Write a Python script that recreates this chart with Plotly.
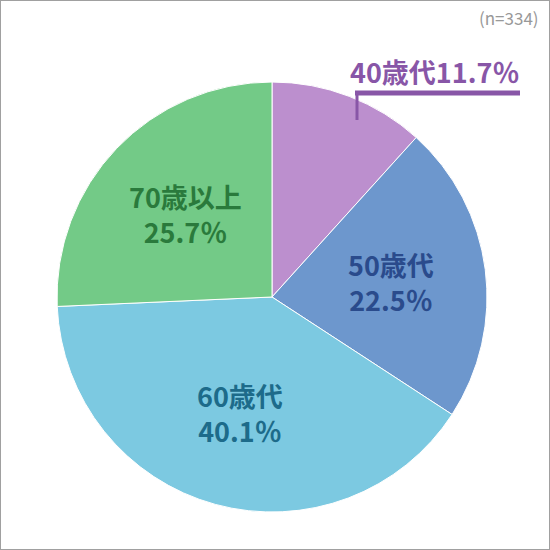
import math
import plotly.graph_objects as go

labels = ["40歳代", "50歳代", "60歳代", "70歳以上"]
values = [11.7, 22.5, 40.1, 25.7]
slice_colors = ["#BC8FCE", "#6D97CD", "#7CC9E1", "#73CA87"]
text_colors = ["#8856A7", "#2A4B8C", "#1D6B8A", "#2A7A3C"]
note = "(n=334)"

W = H = 550
cx, cy, R = 272, 297, 215  # pixel centre / radius of the pie

fig = go.Figure(go.Pie(
    labels=labels,
    values=values,
    sort=False,
    direction="clockwise",
    rotation=0,
    marker=dict(colors=slice_colors, line=dict(color="white", width=1)),
    textinfo="none",
    hoverinfo="label+percent",
    domain=dict(x=[(cx - R) / W, (cx + R) / W], y=[1 - (cy + R) / H, 1 - (cy - R) / H]),
    showlegend=False,
))

# labels inside the bigger slices, placed at the middle angle of each slice
total = sum(values)
cum = 0
for lab, v, col in zip(labels, values, text_colors):
    mid = (cum + v / 2) / total * 2 * math.pi
    cum += v
    if lab == "40歳代":
        continue
    r = 0.56 * R
    px = cx + r * math.sin(mid)
    py = cy - r * math.cos(mid)
    fig.add_annotation(
        x=px / W, y=1 - py / H, xref="paper", yref="paper",
        xanchor="center", yanchor="middle",
        text=f"<b>{lab}<br>{v:.1f}％</b>", showarrow=False,
        font=dict(family="Noto Sans CJK JP", size=27, color=col),
        align="center",
    )

# small slice: label outside with leader line
fig.add_annotation(
    x=434 / W, y=1 - 72 / H, xref="paper", yref="paper",
    xanchor="center", yanchor="middle",
    text=f"<b>{labels[0]}{values[0]:.1f}％</b>", showarrow=False,
    font=dict(family="Noto Sans CJK JP", size=27, color=text_colors[0]),
)
fig.add_shape(type="line", xref="paper", yref="paper",
              x0=355 / W, x1=520 / W, y0=1 - 93 / H, y1=1 - 93 / H,
              line=dict(color=text_colors[0], width=5))
fig.add_shape(type="line", xref="paper", yref="paper",
              x0=357 / W, x1=357 / W, y0=1 - 93 / H, y1=1 - 120 / H,
              line=dict(color=text_colors[0], width=3))

fig.add_annotation(
    x=541 / W, y=1 - 18 / H, xref="paper", yref="paper",
    xanchor="right", yanchor="middle",
    text=note, showarrow=False,
    font=dict(family="Noto Sans CJK JP", size=17, color="#999999"),
)

# outer frame
fig.add_shape(type="rect", xref="paper", yref="paper", x0=0, x1=1, y0=0, y1=1,
              line=dict(color="#A0A0A0", width=2))

fig.update_layout(
    width=W, height=H,
    margin=dict(l=0, r=0, t=0, b=0),
    paper_bgcolor="white",
)

fig.write_html("out.html", config={"displayModeBar": False},
               post_script="document.body.style.margin='0';")
